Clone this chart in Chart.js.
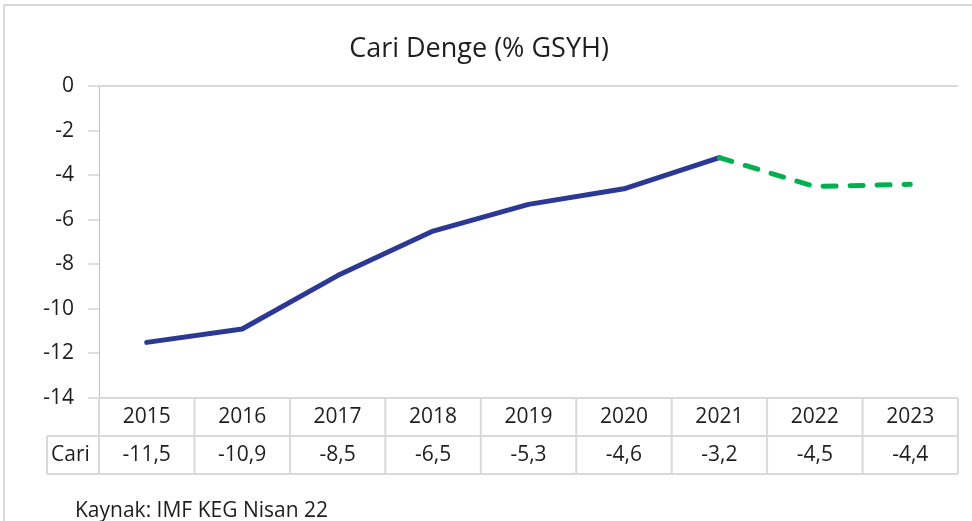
<!DOCTYPE html>
<html>
<head>
<meta charset="utf-8">
<script src="https://cdn.jsdelivr.net/npm/chart.js@4.4.1/dist/chart.umd.min.js"></script>
<style>
  html, body { margin: 0; padding: 0; background: #fff; overflow: hidden; }
  #frame { position: absolute; left: 3px; top: 4px; width: 1000px; height: 600px; border: 2px solid #d9d9d9; }
  #wrap { position: absolute; left: 0; top: 0; width: 972px; height: 521px; }
</style>
</head>
<body>
<div id="frame"></div>
<div id="wrap"><canvas id="cariChart" width="972" height="521"></canvas></div>
<script>
const years = ['2015', '2016', '2017', '2018', '2019', '2020', '2021', '2022', '2023'];
const cari = [-11.5, -10.9, -8.5, -6.5, -5.3, -4.6, -3.2, -4.5, -4.4];
const forecastFrom = '2021'; // dashed green after this year
const seriesName = 'Cari';
const titleText = 'Cari Denge (% GSYH)';
const sourceText = 'Kaynak: IMF KEG Nisan 22';

const FONT = "'Open Sans', sans-serif";
const blue = '#2b3994';
const green = '#00b050';
const gridGray = '#d9d9d9';
const textColor = '#1e1e1e';
const forecastIdx = years.indexOf(forecastFrom);

const fmt = v => String(v).replace('.', ',');

// draws the Excel-style data table under the plot + the source note
const dataTablePlugin = {
  id: 'dataTable',
  afterDraw(chart) {
    const { ctx, chartArea, scales } = chart;
    const x = scales.x;
    const colW = x.getPixelForValue(1) - x.getPixelForValue(0);
    const top = chartArea.bottom;
    const rowH = 38;
    const labelLeft = 47;
    const left = chartArea.left;
    const right = left + colW * years.length;

    ctx.save();
    ctx.strokeStyle = gridGray;
    ctx.lineWidth = 2;
    ctx.beginPath();
    // horizontal lines
    ctx.moveTo(left, top); ctx.lineTo(right, top);
    ctx.moveTo(labelLeft, top + rowH); ctx.lineTo(right, top + rowH);
    ctx.moveTo(labelLeft, top + rowH * 2); ctx.lineTo(right, top + rowH * 2);
    // vertical lines
    ctx.moveTo(labelLeft, top + rowH); ctx.lineTo(labelLeft, top + rowH * 2);
    for (let i = 0; i <= years.length; i++) {
      const xp = left + colW * i;
      ctx.moveTo(xp, top); ctx.lineTo(xp, top + rowH * 2);
    }
    ctx.stroke();

    ctx.fillStyle = textColor;
    ctx.font = '21px ' + FONT;
    ctx.textBaseline = 'middle';
    ctx.textAlign = 'center';
    years.forEach((y, i) => {
      const cx = x.getPixelForValue(i);
      ctx.fillText(y, cx, top + rowH / 2);
      ctx.fillText(fmt(cari[i]), cx, top + rowH * 1.5);
    });
    ctx.textAlign = 'left';
    ctx.fillText(seriesName, labelLeft + 4, top + rowH * 1.5);

    ctx.font = '21px ' + FONT;
    ctx.fillText(sourceText, 75, 511);
    ctx.restore();
  }
};

const ctx = document.getElementById('cariChart').getContext('2d');
new Chart(ctx, {
  type: 'line',
  data: {
    labels: years,
    datasets: [{
      label: seriesName,
      data: cari,
      borderColor: blue,
      borderWidth: 5,
      pointRadius: 0,
      tension: 0,
      borderCapStyle: 'round',
      borderJoinStyle: 'round',
      segment: {
        borderColor: c => c.p0DataIndex >= forecastIdx ? green : blue,
        borderDash: c => c.p0DataIndex >= forecastIdx ? [13, 14] : undefined
      }
    }]
  },
  options: {
    responsive: false,
    animation: false,
    layout: { padding: { left: 0, right: 14, top: 0, bottom: 123 } },
    plugins: {
      legend: { display: false },
      tooltip: { enabled: false },
      title: {
        display: true,
        text: titleText,
        color: textColor,
        font: { family: FONT, size: 27, weight: 'normal' },
        padding: { top: 33, bottom: 21 }
      }
    },
    scales: {
      x: {
        display: false,
        offset: true
      },
      y: {
        min: -14,
        max: 0,
        afterFit: s => { s.width = 99; },
        ticks: {
          stepSize: 2,
          color: textColor,
          padding: 14,
          font: { family: FONT, size: 21 }
        },
        grid: {
          color: c => c.tick && c.tick.value === 0 ? gridGray : 'transparent',
          lineWidth: 2,
          tickColor: '#bfbfbf',
          tickLength: 11,
          tickWidth: 1
        },
        border: { display: true, color: '#bfbfbf', width: 1 }
      }
    }
  },
  plugins: [dataTablePlugin]
});
</script>
</body>
</html>
